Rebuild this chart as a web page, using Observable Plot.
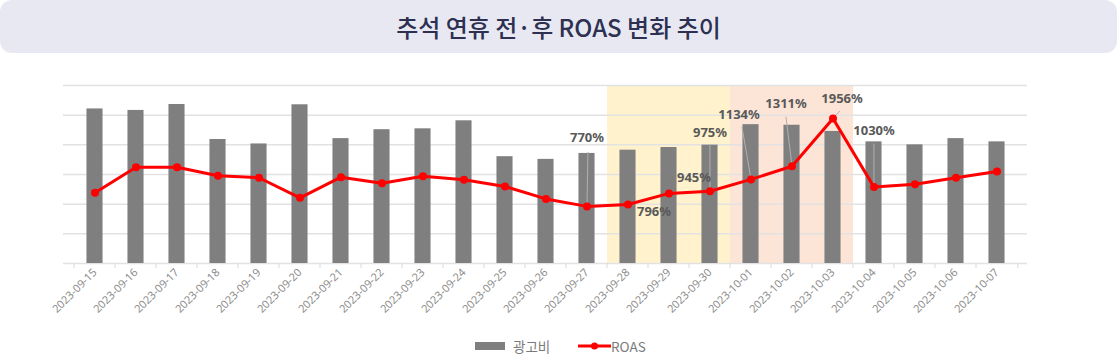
<!DOCTYPE html>
<html><head><meta charset="utf-8">
<script src="https://cdn.jsdelivr.net/npm/d3@7"></script>
<script src="https://cdn.jsdelivr.net/npm/@observablehq/plot@0.6"></script>
<style>
html,body{margin:0;padding:0;background:#fff;width:1117px;height:364px;overflow:hidden;}
#title{position:absolute;top:0;left:0;width:1117px;height:53px;background:#e8e8f3;border-radius:12px;display:flex;align-items:center;justify-content:center;font-family:"Noto Sans CJK KR";font-size:24px;font-weight:500;color:#2d3050;}
#chart{position:absolute;top:60px;left:0;}
#legend{position:absolute;top:335px;left:0;width:1117px;height:22px;font-family:"Noto Sans CJK KR";font-size:13.5px;color:#7a7a7a;}
#legend .it{position:absolute;top:0;display:flex;align-items:center;height:22px;}
</style>
</head><body>
<div id="title">추석 연휴 전·후 ROAS 변화 추이</div>
<div id="chart"></div>
<div id="legend">
  <div class="it" style="left:475px"><svg width="32" height="10"><rect x="0" y="1" width="30" height="8" fill="#7f7f7f"/></svg><span style="margin-left:6px">광고비</span></div>
  <div class="it" style="left:578px"><svg width="33" height="10"><line x1="0" y1="5" x2="33" y2="5" stroke="#ff0000" stroke-width="3"/><circle cx="16.5" cy="5" r="3.5" fill="#ff0000"/></svg><span>ROAS</span></div>
</div>
<script>
// ---- data ----
const dates = ["2023-09-15","2023-09-16","2023-09-17","2023-09-18","2023-09-19","2023-09-20","2023-09-21","2023-09-22","2023-09-23","2023-09-24","2023-09-25","2023-09-26","2023-09-27","2023-09-28","2023-09-29","2023-09-30","2023-10-01","2023-10-02","2023-10-03","2023-10-04","2023-10-05","2023-10-06","2023-10-07"];
// 광고비 (relative units; 1 unit = one gridline step)
const spend = [5.21,5.16,5.36,4.18,4.03,5.35,4.21,4.51,4.54,4.81,3.60,3.51,3.71,3.82,3.91,3.99,4.68,4.66,4.45,4.10,4.00,4.21,4.10];
// ROAS (%)
const roas = [953,1299,1299,1183,1156,885,1164,1083,1177,1129,1038,871,770,796,945,975,1134,1311,1956,1030,1069,1156,1241];
const labelDates = ["2023-09-27","2023-09-28","2023-09-29","2023-09-30","2023-10-01","2023-10-02","2023-10-03","2023-10-04"];
const labelTexts = ["770%","796%","945%","975%","1134%","1311%","1956%","1030%"];
const preHoliday = ["2023-09-28","2023-09-29","2023-09-30"];
const holiday = ["2023-10-01","2023-10-02","2023-10-03"];
const gridTicks = [0,400,800,1200,1600,2000,2400];

// ---- layout (code, not data) ----
const W = 1117, H = 270, ML = 63, MR = 90, MT = 25, MB = 67;
const SPEND_UNIT = 400; // one spend unit drawn as one gridline step
const step = (W - ML - MR) / dates.length;
const barW = 17;
const labelOffsets = {
  "2023-09-27":[0,-69], "2023-09-28":[26,7], "2023-09-29":[25,-16], "2023-09-30":[0,-58],
  "2023-10-01":[-12,-65], "2023-10-02":[-6,-62], "2023-10-03":[9,-20], "2023-10-04":[0,-56]
};
const leaderStarts = {
  "2023-09-27":[1,-54], "2023-09-30":[0,-46], "2023-10-01":[-9,-52],
  "2023-10-02":[-6,-49], "2023-10-03":[7,-7], "2023-10-04":[0,-43]
};

const rows = dates.map((d,i)=>({date:d, spend:spend[i], roas:roas[i]}));
const roasOf = d => roas[dates.indexOf(d)];

function leaders(index, scales, values, dim) {
  const g = d3.create("svg:g");
  const s = (dim.width - dim.marginLeft - dim.marginRight) / dates.length;
  const y0 = scales.y(0);
  for (let i = 0; i <= dates.length; i++) {
    const x = i < dates.length ? scales.x(dates[i]) : scales.x(dates[dates.length-1]) + s;
    g.append("line").attr("x1",x).attr("x2",x).attr("y1",y0).attr("y2",y0+5)
      .attr("stroke","#d9d9d9").attr("stroke-width",1);
  }
  for (const d of Object.keys(leaderStarts)) {
    const px = scales.x(d) + s/2, py = scales.y(roasOf(d));
    const [ox, oy] = leaderStarts[d];
    g.append("line").attr("x1",px+ox).attr("y1",py+oy).attr("x2",px).attr("y2",py)
      .attr("stroke","#b0b0b0").attr("stroke-width",1);
  }
  return g.node();
}

const labelMarks = labelDates.map((d,i)=>Plot.text([{date:d, roas:roasOf(d), label:labelTexts[i]}], {
  x:"date", y:"roas", text:"label", dx:labelOffsets[d][0], dy:labelOffsets[d][1],
  fontSize:13, fontWeight:"bold", fill:"#595959", fontFamily:"Noto Sans"
}));

const chart = Plot.plot({
  width: W, height: H, marginLeft: ML, marginRight: MR, marginTop: MT, marginBottom: MB,
  style: {fontFamily: "Noto Sans", background: "transparent"},
  x: {type: "band", domain: dates, padding: 0, label: null},
  y: {domain: [0, 2400], axis: null},
  marks: [
    Plot.barY(preHoliday, {x: d=>d, y1: 0, y2: 2400, fill: "#fff2cc"}),
    Plot.barY(holiday, {x: d=>d, y1: 0, y2: 2400, fill: "#fce4d6"}),
    Plot.ruleY(gridTicks, {stroke: "#e2e2e2", strokeWidth: 1.5}),
    Plot.axisX({tickRotate: -45, tickSize: 0, tickPadding: 7, fontSize: 11, fill: "#8c8c8c", label: null}),
    Plot.barY(rows, {x: "date", y: d => d.spend * SPEND_UNIT, fill: "#7f7f7f",
      insetLeft: (step - barW)/2, insetRight: (step - barW)/2}),
    leaders,
    Plot.line(rows, {x: "date", y: "roas", stroke: "#ff0000", strokeWidth: 3}),
    Plot.dot(rows, {x: "date", y: "roas", r: 4, fill: "#ff0000"}),
    ...labelMarks
  ]
});
document.getElementById("chart").appendChild(chart);
</script>
</body></html>
